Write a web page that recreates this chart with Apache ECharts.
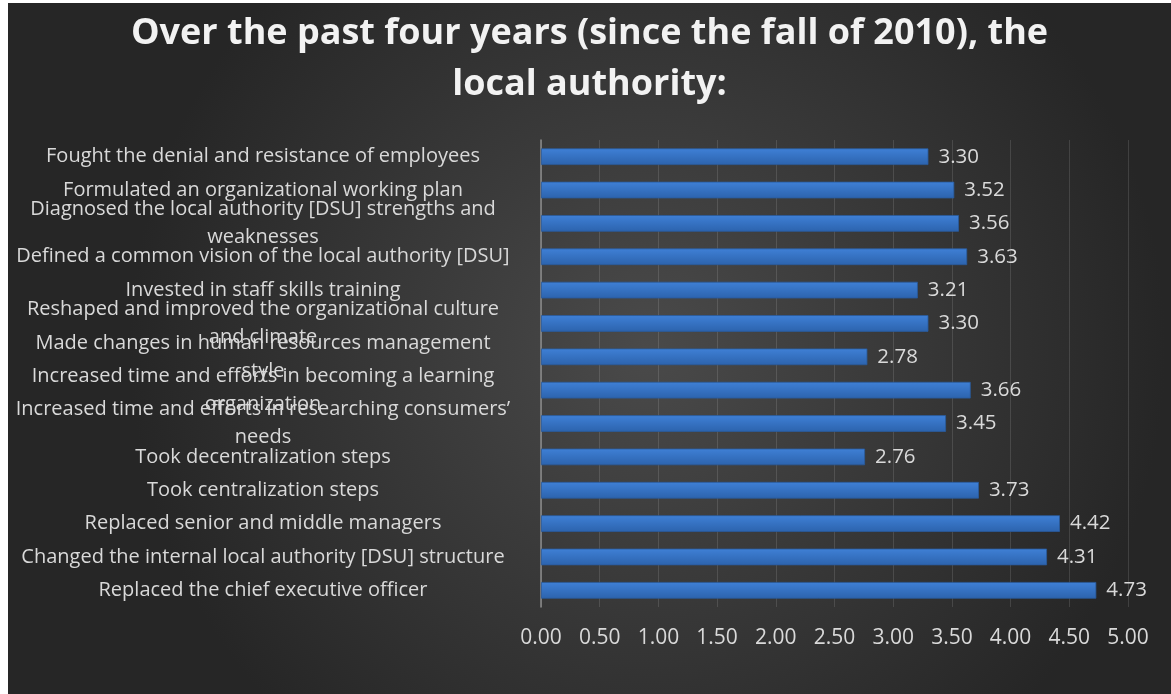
<!DOCTYPE html>
<html>
<head>
<meta charset="utf-8">
<script src="https://cdn.jsdelivr.net/npm/echarts@6/dist/echarts.min.js"></script>
<style>
  html, body { margin: 0; padding: 0; background: #ffffff; }
  #chart { position: absolute; left: 8px; top: 3px; width: 1163px; height: 691px; }
</style>
</head>
<body>
<div id="chart"></div>
<script>
// Survey items, listed top to bottom as they are shown
const categories = [
  'Fought the denial and resistance of employees',
  'Formulated an organizational working plan',
  'Diagnosed the local authority [DSU] strengths and\nweaknesses',
  'Defined a common vision of the local authority [DSU]',
  'Invested in staff skills training',
  'Reshaped and improved the organizational culture\nand climate',
  'Made changes in human resources management\nstyle',
  'Increased time and efforts in becoming a learning\norganization',
  'Increased time and efforts in researching consumers\u2019\nneeds',
  'Took decentralization steps',
  'Took centralization steps',
  'Replaced senior and middle managers',
  'Changed the internal local authority [DSU] structure',
  'Replaced the chief executive officer'
];

// Mean score for each item
const meanScores = [3.30, 3.52, 3.56, 3.63, 3.21, 3.30, 2.78, 3.66, 3.45, 2.76, 3.73, 4.42, 4.31, 4.73];

// Value axis range and step
const axisMin = 0;
const axisMax = 5;
const axisStep = 0.5;

const titleText = 'Over the past four years (since the fall of 2010), the\nlocal authority:';

const FONT = '"Open Sans", "Noto Sans", sans-serif';

const chart = echarts.init(document.getElementById('chart'), null, { renderer: 'canvas' });

chart.setOption({
  animation: false,
  backgroundColor: {
    type: 'radial', x: 0.55, y: 0.5, r: 0.75,
    colorStops: [
      { offset: 0, color: '#4a4a4a' },
      { offset: 1, color: '#262626' }
    ]
  },
  title: {
    text: titleText,
    left: 'center',
    top: 0,
    textStyle: {
      color: '#f2f2f2',
      fontFamily: FONT,
      fontWeight: 'bold',
      fontSize: 36,
      lineHeight: 51
    }
  },
  grid: { left: 533, right: 43, top: 137, bottom: 87, containLabel: false },
  xAxis: {
    type: 'value',
    min: axisMin,
    max: axisMax,
    interval: axisStep,
    axisLine: { show: false },
    axisTick: { show: false },
    splitLine: { show: true, lineStyle: { color: 'rgba(255,255,255,0.12)', width: 1 } },
    axisLabel: {
      color: '#d9d9d9',
      fontFamily: FONT,
      fontSize: 21,
      margin: 21,
      formatter: v => v.toFixed(2)
    }
  },
  yAxis: {
    type: 'category',
    data: categories,
    inverse: true,
    axisLine: { show: true, lineStyle: { color: '#8c8c8c', width: 1.5 } },
    axisTick: { show: false },
    splitLine: { show: false },
    axisLabel: {
      color: '#d9d9d9',
      fontFamily: FONT,
      fontSize: 20,
      lineHeight: 28,
      align: 'center',
      margin: 278,
      interval: 0
    }
  },
  series: [{
    type: 'bar',
    data: meanScores,
    barCategoryGap: '50%',
    itemStyle: {
      color: {
        type: 'linear', x: 0, y: 0, x2: 0, y2: 1,
        colorStops: [
          { offset: 0, color: '#3f80d6' },
          { offset: 1, color: '#2c63ad' }
        ]
      },
      borderColor: '#2a5a9c',
      borderWidth: 0.8
    },
    label: {
      show: true,
      position: 'right',
      distance: 10,
      color: '#d9d9d9',
      fontFamily: FONT,
      fontSize: 20.5,
      formatter: p => p.value.toFixed(2)
    }
  }]
});
</script>
</body>
</html>
